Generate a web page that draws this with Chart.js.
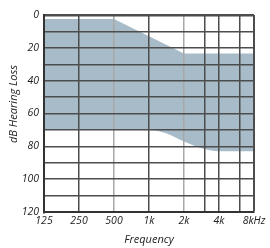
<!DOCTYPE html>
<html>
<head>
<meta charset="utf-8">
<script src="https://cdn.jsdelivr.net/npm/chart.js@4/dist/chart.umd.min.js"></script>
<style>
html,body{margin:0;padding:0;background:#fff;}
#wrap{width:270px;height:248px;position:relative;}
</style>
</head>
<body>
<div id="wrap"><canvas id="c" width="270" height="248"></canvas></div>
<script>
// Data
const upperFreqs = [125, 500, 1000, 2000, 8000];
const upperDb    = [2.5, 2.5, 13, 23.5, 23.5];
const lowerFreqs = [125, 1000, 1400, 2000, 2800, 4000, 8000];
const lowerDb    = [70, 70, 72, 77, 81, 83, 83];
const xTickValues = [125, 250, 500, 1000, 2000, 3000, 4000, 6000, 8000];
const xTickLabels = ['125', '250', '500', '1k', '2k', '', '4k', '', '8kHz'];
const yTickValues = [0, 10, 20, 30, 40, 50, 60, 70, 80, 90, 100, 110, 120];
const lightFreqs = [500, 2000];
const yTitle = 'dB Hearing Loss';

const tickFont = {family: "'Open Sans', sans-serif", size: 10.5, style: 'italic'};
const titleFont = {family: "'Open Sans', sans-serif", size: 11, style: 'italic'};
const fill = 'rgb(167,188,200)';

const yTitlePlugin = {
  id: 'yTitle',
  afterDraw(chart) {
    const ctx = chart.ctx;
    ctx.save();
    ctx.translate(13.5, 104);
    ctx.rotate(-Math.PI / 2);
    ctx.font = "italic 11px 'Open Sans', sans-serif";
    ctx.fillStyle = '#222';
    ctx.textAlign = 'center';
    ctx.textBaseline = 'middle';
    ctx.fillText(yTitle, 0, 0);
    ctx.restore();
  }
};

new Chart(document.getElementById('c'), {
  type: 'line',
  data: {
    datasets: [
      {
        data: upperFreqs.map((f, i) => ({x: f, y: upperDb[i]})),
        borderWidth: 0, pointRadius: 0, borderColor: fill, fill: false, tension: 0
      },
      {
        data: lowerFreqs.map((f, i) => ({x: f, y: lowerDb[i]})),
        borderWidth: 0, pointRadius: 0, borderColor: fill,
        backgroundColor: fill, fill: '-1', cubicInterpolationMode: 'monotone'
      }
    ]
  },
  plugins: [yTitlePlugin],
  options: {
    responsive: false, animation: false, devicePixelRatio: 1,
    layout: {padding: {top: 15, right: 16, left: 0, bottom: 0}},
    plugins: {legend: {display: false}, tooltip: {enabled: false}},
    scales: {
      x: {
        type: 'logarithmic', min: 125, max: 8000,
        afterBuildTicks: s => { s.ticks = xTickValues.map(v => ({value: v})); },
        afterFit: s => { s.height = 36; },
        ticks: {
          autoSkip: false, maxRotation: 0, padding: 3, color: '#222', font: tickFont,
          callback: v => { const i = xTickValues.indexOf(v); return i >= 0 ? xTickLabels[i] : ''; }
        },
        grid: {
          z: 1, drawTicks: false,
          color: c => lightFreqs.includes(c.tick && c.tick.value) ? '#a8a8a8' : '#4d4d4d',
          lineWidth: c => (c.tick && c.tick.value === 8000) ? 2 : 1.5
        },
        border: {display: true, color: '#333', width: 2, z: 2},
        title: {display: true, text: 'Frequency', color: '#222', font: titleFont, padding: {top: 0, bottom: 2}}
      },
      y: {
        reverse: true, min: 0, max: 120,
        afterBuildTicks: s => { s.ticks = yTickValues.map(v => ({value: v})); },
        afterFit: s => { s.width = 44; },
        ticks: {
          autoSkip: false, padding: 5, color: '#222', font: tickFont,
          callback: v => (v % 20 === 0 ? String(v) : '')
        },
        grid: {
          z: 1, drawTicks: false, color: '#4d4d4d',
          lineWidth: c => (c.tick && c.tick.value === 0) ? 2.5 : 1.5
        },
        border: {display: true, color: '#333', width: 2, z: 2},
        title: {display: false}
      }
    }
  }
});
</script>
</body>
</html>
